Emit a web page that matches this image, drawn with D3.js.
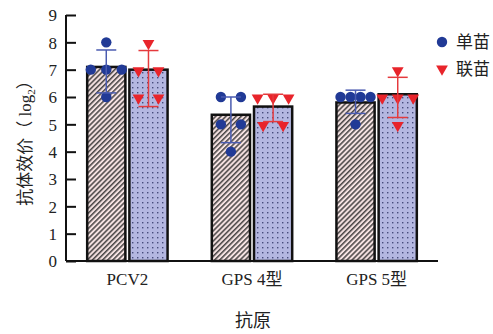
<!DOCTYPE html>
<html>
<head>
<meta charset="utf-8">
<script src="https://cdn.jsdelivr.net/npm/d3@7"></script>
<style>
  html, body { margin: 0; padding: 0; background: #fff; }
  svg text { font-family: "Liberation Serif", "Noto Sans CJK SC", serif; fill: #222; }
</style>
</head>
<body>
<svg id="chart" width="493" height="334"></svg>
<script>
// Antigen groups and vaccine series
const categories = ["PCV2", "GPS 4型", "GPS 5型"];
const seriesNames = ["单苗", "联苗"];

// Bar heights (mean titre, log2)
const singleMeans = [7.1, 5.35, 5.8];
const comboMeans  = [7.0, 5.65, 6.1];

// Error bar extents [low, high]
const singleErr = [[6.15, 7.72], [4.33, 6.0], [5.4, 6.25]];
const comboErr  = [[5.65, 7.7], [5.1, 6.1], [5.25, 6.72]];

// Individual animal titres
const singlePoints = [[8, 7, 7, 7, 6], [6, 6, 5, 5, 4], [6, 6, 6, 6, 5]];
const comboPoints  = [[8, 7, 7, 6, 6], [6, 6, 6, 5, 5], [7, 6, 6, 6, 5]];

const yTicks = [0, 1, 2, 3, 4, 5, 6, 7, 8, 9];

const svg = d3.select("#chart");
const plotLeft = 66, plotRight = 438, plotTop = 15, plotBottom = 261;

const y = d3.scaleLinear().domain([0, 9]).range([plotBottom, plotTop]);
const x0 = d3.scaleBand().domain(categories).range([plotLeft, plotRight])
  .paddingInner(0.355).paddingOuter(0.17);
const x1 = d3.scaleBand().domain(seriesNames).range([0, x0.bandwidth()])
  .paddingInner(0.095).paddingOuter(0);

// Fill patterns
const defs = svg.append("defs");
const hatch = defs.append("pattern").attr("id", "hatch")
  .attr("patternUnits", "userSpaceOnUse").attr("width", 3.6).attr("height", 3.6)
  .attr("patternTransform", "rotate(45)");
hatch.append("rect").attr("width", 3.6).attr("height", 3.6).attr("fill", "#f5e2e2");
hatch.append("line").attr("x1", 0.8).attr("y1", 0).attr("x2", 0.8).attr("y2", 3.6)
  .attr("stroke", "#2a2a2a").attr("stroke-width", 1.3);

const dots = defs.append("pattern").attr("id", "dots")
  .attr("patternUnits", "userSpaceOnUse").attr("width", 5).attr("height", 5);
dots.append("rect").attr("width", 5).attr("height", 5).attr("fill", "#b4b7e1");
dots.append("rect").attr("x", 2).attr("y", 2).attr("width", 1.4).attr("height", 1.4).attr("fill", "#474b7c");

const series = [
  { name: "单苗", means: singleMeans, err: singleErr, pts: singlePoints,
    fill: "url(#hatch)", pointColor: "#213a96", lineColor: "#4a5bb0", shape: "circle" },
  { name: "联苗", means: comboMeans, err: comboErr, pts: comboPoints,
    fill: "url(#dots)", pointColor: "#e8242b", lineColor: "#e53a3d", shape: "triangle" }
];

// Horizontal spread of tied values within a bar
const spread = { 1: [0], 2: [-10, 10], 3: [-15.5, 0, 15.5], 4: [-15, -5, 5, 15] };

const triangle = d3.symbol().type(d3.symbolTriangle).size(60);

series.forEach(s => {
  const g = svg.append("g");
  categories.forEach((c, i) => {
    const bx = x0(c) + x1(s.name);
    const bw = x1.bandwidth();
    const cx = bx + bw / 2;

    // bar
    g.append("rect")
      .attr("x", bx).attr("y", y(s.means[i]))
      .attr("width", bw).attr("height", y(0) - y(s.means[i]))
      .attr("fill", s.fill).attr("stroke", "#111").attr("stroke-width", 2.5);

    // points, tied values spread sideways
    const counts = d3.rollup(s.pts[i], v => v.length, v => v);
    const seen = new Map();
    s.pts[i].forEach(v => {
      const n = counts.get(v);
      const k = seen.get(v) || 0;
      seen.set(v, k + 1);
      const px = cx + spread[n][k];
      if (s.shape === "circle") {
        g.append("circle").attr("cx", px).attr("cy", y(v)).attr("r", 5.2)
          .attr("fill", s.pointColor);
      } else {
        g.append("path").attr("d", triangle)
          .attr("transform", `translate(${px},${y(v) + 1}) rotate(180)`)
          .attr("fill", s.pointColor);
      }
    });

    // error bar
    const [lo, hi] = s.err[i];
    const eg = g.append("g").attr("stroke", s.lineColor).attr("stroke-width", 1.5);
    eg.append("line").attr("x1", cx).attr("x2", cx).attr("y1", y(lo)).attr("y2", y(hi));
    eg.append("line").attr("x1", cx - 10).attr("x2", cx + 10).attr("y1", y(lo)).attr("y2", y(lo));
    eg.append("line").attr("x1", cx - 10).attr("x2", cx + 10).attr("y1", y(hi)).attr("y2", y(hi));
  });
});

// Y axis with inward ticks
const yAxis = svg.append("g").attr("transform", `translate(${plotLeft},0)`)
  .call(d3.axisRight(y).tickValues(yTicks).tickSize(10).tickFormat(d3.format("d")));
yAxis.select(".domain").attr("stroke", "#111").attr("stroke-width", 2)
  .attr("d", `M0,${y(9)}V${y(0)}`);
yAxis.selectAll(".tick line").attr("stroke", "#111").attr("stroke-width", 2);
yAxis.selectAll(".tick text").attr("x", -9).attr("text-anchor", "end")
  .attr("font-size", 17).attr("fill", "#222").attr("dy", "0.34em");

// X axis baseline and category labels
const xAxis = svg.append("g").attr("transform", `translate(0,${plotBottom})`)
  .call(d3.axisBottom(x0).tickSize(0).tickPadding(12));
xAxis.select(".domain").attr("stroke", "#111").attr("stroke-width", 2)
  .attr("d", `M${plotLeft},0H${plotRight}`);
xAxis.selectAll(".tick text").attr("font-size", 17).attr("fill", "#222");

// Axis titles
svg.append("text").attr("x", 253).attr("y", 327).attr("text-anchor", "middle")
  .attr("font-size", 18).text("抗原");
const yt = svg.append("text").attr("transform", "translate(31,139) rotate(-90)")
  .attr("text-anchor", "middle").attr("font-size", 17);
yt.append("tspan").text("抗体效价");
yt.append("tspan").attr("font-family", "Noto Sans CJK SC").text("（");
yt.append("tspan").text(" log");
yt.append("tspan").attr("font-size", 11).attr("dy", 4).text("2");
yt.append("tspan").attr("dy", -4).attr("font-family", "Noto Sans CJK SC").text("）");

// Legend
const lg = svg.append("g");
lg.append("circle").attr("cx", 442).attr("cy", 42).attr("r", 5.2).attr("fill", series[0].pointColor);
lg.append("path").attr("d", triangle).attr("transform", "translate(442,69) rotate(180)")
  .attr("fill", series[1].pointColor);
lg.append("text").attr("x", 456).attr("y", 48).attr("font-size", 17).text(seriesNames[0]);
lg.append("text").attr("x", 456).attr("y", 75).attr("font-size", 17).text(seriesNames[1]);
</script>
</body>
</html>
